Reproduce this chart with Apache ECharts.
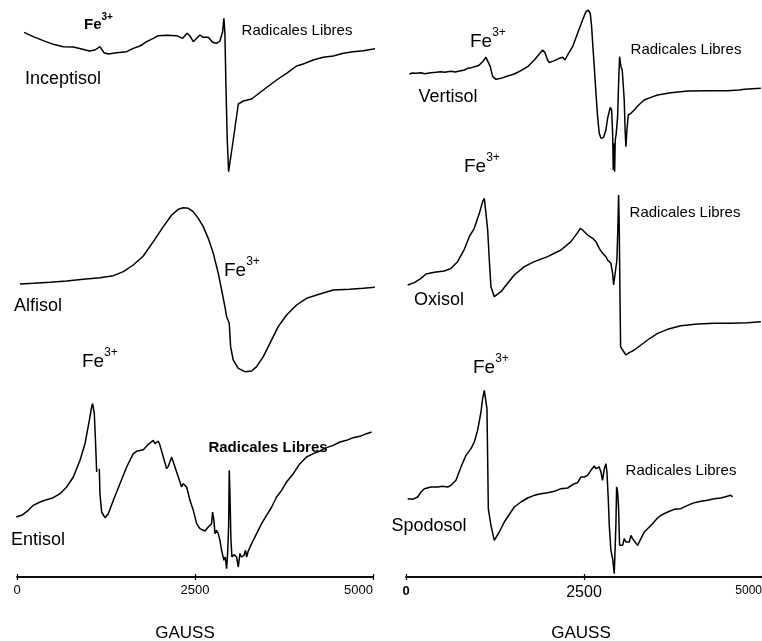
<!DOCTYPE html>
<html>
<head>
<meta charset="utf-8">
<script src="https://cdn.jsdelivr.net/npm/echarts@6/dist/echarts.min.js"></script>
<style>
  html, body { margin: 0; padding: 0; background: #fff; }
  #chart { width: 762px; height: 641px; }
</style>
</head>
<body>
<div id="chart"></div>
<script>
// ---- Data: [magnetic field (gauss), EPR signal (arbitrary units)] ----
const gaussTicks = [0, 2500, 5000];
const sampleNames = ['Inceptisol', 'Vertisol', 'Alfisol', 'Oxisol', 'Entisol', 'Spodosol'];
const ironLabel = ['Fe', '3+'];
const radicalLabel = 'Radicales Libres';
const axisTitle = 'GAUSS';

const inceptisol = [
  [100,503],[229,490],[370,478],[510,467],[650,460],[791,459],[908,453],[1016,447],[1095,450],
  [1165,460],[1189,455],[1221,442],[1282,438],[1399,442],[1540,445],[1633,455],[1727,462],
  [1821,475],[1914,485],[1984,493],[2101,494],[2242,493],[2326,485],[2391,500],[2429,492],
  [2476,475],[2523,485],[2569,495],[2616,488],[2686,488],[2747,473],[2803,470],[2850,477],
  [2888,505],[2906,545],[2920,500],[2934,350],[2953,180],[2972,85],[2991,90],[3037,180],
  [3108,288],[3178,297],[3295,303],[3459,330],[3646,360],[3786,380],[3927,402],[4020,408],
  [4161,420],[4301,428],[4441,432],[4582,440],[4722,445],[4862,448],[5073,455]
];

const vertisol = [
  [47,378],[90,381],[140,380],[211,382],[260,379],[351,382],[420,383],[491,385],[540,383],
  [632,386],[690,384],[772,388],[820,390],[866,395],[920,397],[959,400],[1000,402],[1030,405],
  [1076,415],[1123,428],[1147,425],[1184,400],[1217,370],[1264,362],[1334,365],[1427,372],
  [1521,378],[1615,388],[1708,400],[1802,420],[1872,438],[1919,450],[1952,442],[1989,420],
  [2012,412],[2083,418],[2153,425],[2200,428],[2232,420],[2270,435],[2340,460],[2410,500],
  [2480,540],[2527,565],[2560,570],[2588,560],[2607,520],[2625,460],[2644,400],[2668,320],
  [2691,250],[2714,200],[2738,185],[2775,188],[2808,210],[2831,245],[2869,278],[2888,270],
  [2902,200],[2911,90],[2920,170],[2930,85],[2939,180],[2953,200],[2972,250],[2986,350],
  [3000,430],[3019,400],[3037,390],[3056,388],[3065,300],[3079,200],[3089,160],[3103,210],
  [3122,255],[3159,260],[3206,270],[3253,282],[3346,300],[3440,308],[3533,315],[3721,322],
  [3955,327],[4235,328],[4516,328],[4680,330],[4750,332],[4984,335]
];

const alfisol = [
  [42,318],[229,320],[463,323],[697,327],[931,332],[1165,337],[1353,343],[1493,355],[1633,375],
  [1774,402],[1914,445],[2055,490],[2172,525],[2265,542],[2335,547],[2406,545],[2476,535],
  [2546,515],[2616,490],[2686,455],[2757,410],[2827,350],[2874,300],[2920,250],[2944,220],
  [2981,200],[2991,195],[3000,130],[3037,90],[3108,65],[3201,55],[3295,57],[3365,70],
  [3459,100],[3552,140],[3669,190],[3786,225],[3927,255],[4067,275],[4254,288],[4441,300],
  [4675,302],[4862,305],[5026,308]
];

const oxisol = [
  [23,285],[117,292],[211,305],[281,318],[398,323],[538,327],[632,335],[725,355],[819,392],
  [889,430],[959,455],[1030,500],[1076,535],[1100,545],[1123,500],[1147,450],[1170,360],
  [1193,280],[1240,250],[1264,248],[1334,265],[1427,290],[1521,315],[1661,340],[1802,355],
  [1989,370],[2176,390],[2317,415],[2410,442],[2448,455],[2480,450],[2551,435],[2621,425],
  [2668,415],[2714,395],[2761,380],[2808,370],[2831,360],[2878,350],[2902,320],[2916,285],
  [2939,290],[2962,360],[2976,460],[2986,555],[2995,460],[3005,260],[3014,100],[3042,90],
  [3089,75],[3136,82],[3206,90],[3300,105],[3393,120],[3533,140],[3674,152],[3861,163],
  [4095,168],[4329,170],[4563,170],[4797,172],[4984,175]
];

const entisol = [
  [-10,180],[66,185],[159,200],[229,215],[323,225],[417,232],[510,238],[604,250],[697,270],
  [791,300],[885,350],[955,400],[1016,470],[1048,510],[1062,520],[1086,490],[1104,400],
  [1119,315],[1135,'-'],[1156,325],[1165,250],[1189,195],[1236,178],[1282,190],[1353,230],
  [1446,280],[1540,330],[1633,370],[1680,377],[1774,382],[1844,398],[1914,410],[1938,400],
  [1984,408],[2008,395],[2055,360],[2101,325],[2125,332],[2172,360],[2195,355],[2242,315],
  [2289,285],[2312,270],[2335,280],[2382,270],[2406,250],[2429,230],[2476,200],[2523,160],
  [2569,145],[2640,138],[2686,150],[2733,160],[2747,195],[2766,170],[2780,130],[2803,140],
  [2827,130],[2850,110],[2874,80],[2906,50],[2925,60],[2944,25],[2958,70],[2972,150],
  [2981,320],[2991,250],[3005,110],[3019,60],[3047,67],[3084,60],[3108,30],[3131,70],
  [3154,60],[3187,65],[3210,80],[3225,60],[3248,78],[3295,100],[3365,130],[3435,160],
  [3505,185],[3577,210],[3646,240],[3716,260],[3786,285],[3880,310],[3973,340],[4067,360],
  [4161,370],[4254,378],[4348,388],[4441,395],[4535,405],[4629,410],[4722,418],[4816,422],
  [4909,430],[4980,435]
];

const spodosol = [
  [23,235],[94,233],[164,240],[211,255],[257,265],[351,270],[445,270],[515,272],[585,270],
  [632,275],[702,290],[772,330],[842,365],[913,385],[959,405],[1006,440],[1053,495],[1076,535],
  [1100,560],[1123,555],[1137,505],[1147,355],[1156,205],[1193,155],[1240,110],[1264,115],
  [1310,135],[1381,165],[1427,180],[1521,210],[1615,225],[1708,237],[1802,245],[1895,250],
  [1989,253],[2083,257],[2176,265],[2270,267],[2363,280],[2410,283],[2457,300],[2504,300],
  [2551,305],[2597,320],[2644,333],[2668,325],[2714,330],[2738,315],[2761,290],[2785,325],
  [2808,340],[2822,315],[2841,235],[2855,155],[2878,80],[2902,55],[2925,10],[2939,10],
  [2948,155],[2958,270],[2972,255],[2986,205],[3000,95],[3019,100],[3042,95],[3065,115],
  [3089,105],[3112,110],[3136,105],[3159,125],[3182,115],[3206,110],[3253,95],[3299,115],
  [3346,135],[3393,145],[3463,160],[3533,177],[3580,185],[3674,195],[3767,203],[3861,205],
  [3955,215],[4048,223],[4142,227],[4235,230],[4329,235],[4423,237],[4563,245],[4586,240]
];

const spectra = [inceptisol, vertisol, alfisol, oxisol, entisol, spodosol];

// ---- Layout ----
const FONT = "'Liberation Sans', Arial, Helvetica, sans-serif";
const panels = [
  { left: 17,  top: 0,   height: 200, ymax: 600 },
  { left: 406, top: 0,   height: 200, ymax: 600 },
  { left: 17,  top: 190, height: 200, ymax: 600 },
  { left: 406, top: 160, height: 220, ymax: 660 },
  { left: 17,  top: 360, height: 217, ymax: 651 },
  { left: 406, top: 360, height: 217, ymax: 651 }
];

const grid = panels.map(p => ({
  left: p.left, top: p.top, width: 356, height: p.height,
  containLabel: false, outerBoundsMode: 'none'
}));
const yAxis = panels.map((p, i) => ({ type: 'value', gridIndex: i, min: 0, max: p.ymax, show: false }));
const xAxis = panels.map((p, i) => ({ type: 'value', gridIndex: i, min: gaussTicks[0], max: gaussTicks[2], show: false }));

function bottomAxis(gridIndex, rich, nameShift) {
  const base = {
    type: 'value', gridIndex, position: 'bottom',
    min: gaussTicks[0], max: gaussTicks[gaussTicks.length - 1], interval: gaussTicks[1] - gaussTicks[0],
    splitLine: { show: false },
    axisLine: { show: true, onZero: false, lineStyle: { color: '#000', width: 1.5 } }
  };
  return [
    Object.assign({}, base, {
      axisTick: { show: true, inside: false, length: 3, lineStyle: { color: '#000', width: 1.2 } },
      axisLabel: {
        show: true, margin: rich ? 8 : 7, color: '#000', fontFamily: FONT, fontSize: 13,
        alignMaxLabel: 'right',
        formatter: rich ? (v => v === 0 ? '{b|0}' : (v === 2500 ? '{m|2500}' : '{s|' + v + '}')) : (v => String(v)),
        rich: rich ? {
          b: { fontWeight: 'bold', fontSize: 13, fontFamily: FONT, color: '#000' },
          m: { fontSize: 16, fontFamily: FONT, color: '#000' },
          s: { fontSize: 12, fontFamily: FONT, color: '#000' }
        } : undefined
      },
      name: axisTitle, nameLocation: 'middle', nameGap: 48,
      nameTextStyle: { color: '#000', fontFamily: FONT, fontSize: 17, padding: nameShift }
    }),
    Object.assign({}, base, {
      axisTick: { show: true, inside: true, length: 3, lineStyle: { color: '#000', width: 1.2 } },
      axisLabel: { show: false }
    })
  ];
}
xAxis.push(...bottomAxis(4, false, [0, 20, 0, 0]));
xAxis.push(...bottomAxis(5, true, [0, 6, 0, 0]));

const series = spectra.map((d, i) => ({
  type: 'line', xAxisIndex: i, yAxisIndex: i, data: d,
  showSymbol: false, clip: false, smooth: false, connectNulls: false,
  lineStyle: { color: '#000', width: 1.5 }, silent: true
}));

// ---- Annotations ----
function plain(text, x, y, size, bold) {
  return {
    type: 'text', x, y, silent: true,
    style: {
      text, fill: '#000', fontFamily: FONT, fontSize: size, fontWeight: bold ? 'bold' : 'normal',
      align: 'center', verticalAlign: 'middle', textAlign: 'center', textVerticalAlign: 'middle'
    }
  };
}
function iron(x, y, size, supSize, bold) {
  const w = bold ? 'bold' : 'normal';
  return {
    type: 'text', x, y, silent: true,
    style: {
      text: '{f|' + ironLabel[0] + '}{s|' + ironLabel[1] + '}',
      align: 'left', verticalAlign: 'middle', textAlign: 'left', textVerticalAlign: 'middle',
      rich: {
        f: { fontSize: size, fontFamily: FONT, fontWeight: w, fill: '#000', color: '#000', lineHeight: size + 5, verticalAlign: 'bottom' },
        s: { fontSize: supSize, fontFamily: FONT, fontWeight: w, fill: '#000', color: '#000', lineHeight: size + 5, verticalAlign: 'top' }
      }
    }
  };
}

const graphic = [
  iron(84, 22, 15, 10, true),
  plain(radicalLabel, 297, 31, 15),
  plain(sampleNames[0], 63, 79, 18),
  iron(470, 39, 19, 12),
  plain(radicalLabel, 686, 50, 15),
  plain(sampleNames[1], 448, 97, 18),
  iron(464, 164, 19, 12),
  iron(224, 268, 19, 12),
  plain(sampleNames[2], 38, 306, 18),
  iron(82, 359, 19, 12),
  plain(radicalLabel, 685, 213, 15),
  plain(sampleNames[3], 439, 300, 18),
  iron(473, 365, 19, 12),
  plain(radicalLabel, 268, 448, 15, true),
  plain(sampleNames[4], 38, 540, 18),
  plain(radicalLabel, 681, 471, 15),
  plain(sampleNames[5], 429, 526, 18)
];

const chart = echarts.init(document.getElementById('chart'), null, { renderer: 'canvas' });
chart.setOption({
  animation: false,
  backgroundColor: '#fff',
  grid, xAxis, yAxis, series, graphic
});
</script>
</body>
</html>
